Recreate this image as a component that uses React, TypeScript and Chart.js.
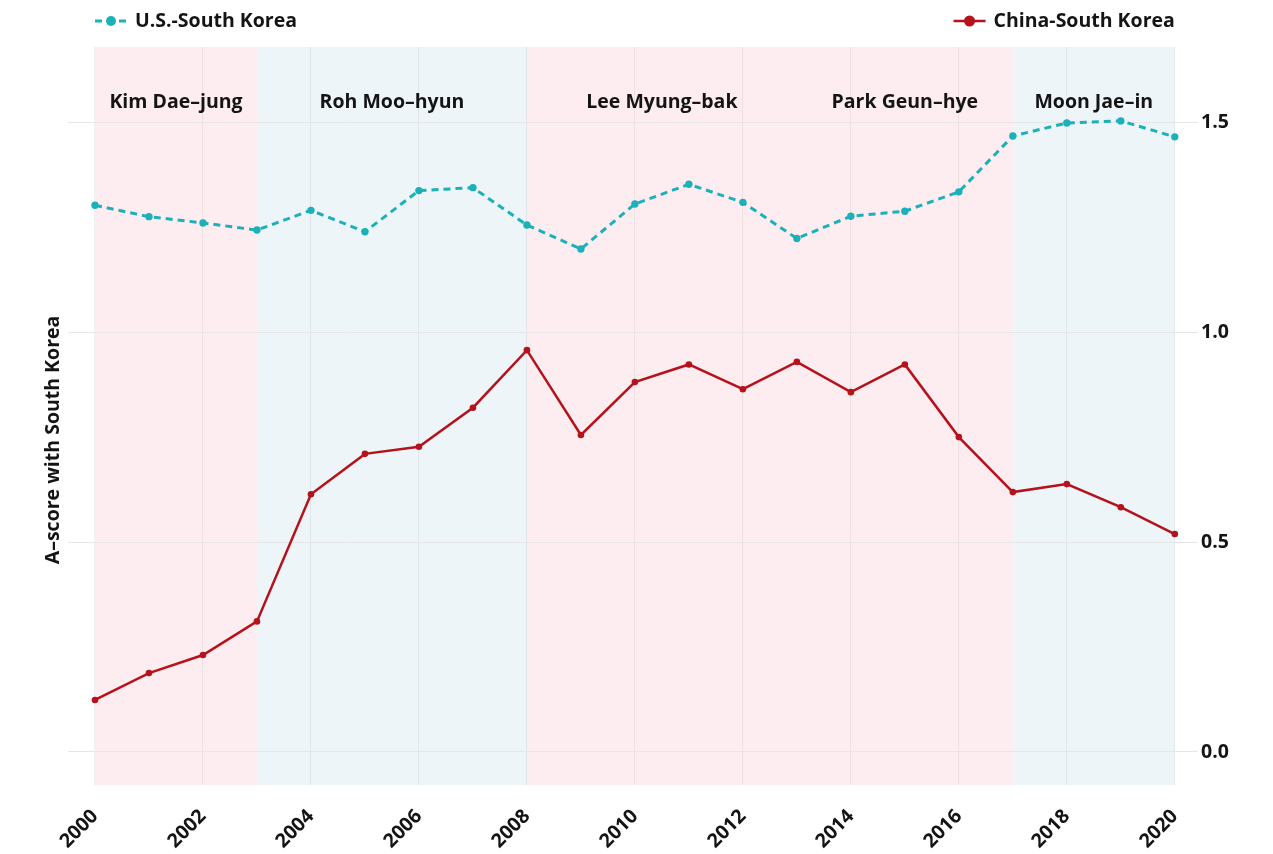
import { useEffect, useRef } from "react";
import { Chart, registerables } from "chart.js";
Chart.register(...registerables);

const years = [2000, 2001, 2002, 2003, 2004, 2005, 2006, 2007, 2008, 2009, 2010, 2011, 2012, 2013, 2014, 2015, 2016, 2017, 2018, 2019, 2020];
const usKorea = [1.302, 1.275, 1.26, 1.243, 1.29, 1.239, 1.337, 1.344, 1.255, 1.198, 1.305, 1.352, 1.309, 1.223, 1.276, 1.288, 1.334, 1.467, 1.498, 1.503, 1.465];
const chinaKorea = [0.124, 0.188, 0.231, 0.311, 0.614, 0.71, 0.727, 0.82, 0.957, 0.755, 0.881, 0.923, 0.864, 0.929, 0.857, 0.923, 0.75, 0.619, 0.638, 0.583, 0.519];

const presidents = ["Kim Dae–jung", "Roh Moo–hyun", "Lee Myung–bak", "Park Geun–hye", "Moon Jae–in"];
const termStart = [2000, 2003, 2008, 2013, 2017];
const termEnd = [2003, 2008, 2013, 2017, 2020];

const PINK = "#fdedf0";
const BLUE = "#edf5f9";
const bandColors = [PINK, BLUE, PINK, PINK, BLUE];

const TEAL = "#1cb0b9";
const RED = "#b5121b";
const INK = "#141414";
const FONT = "'Open Sans', 'Noto Sans', sans-serif";

const decorations = {
  id: "decorations",
  beforeDraw(chart: any) {
    const { ctx, chartArea, scales } = chart;
    const x = scales.x;
    ctx.save();
    termStart.forEach((s, i) => {
      const x0 = x.getPixelForValue(s);
      const x1 = x.getPixelForValue(termEnd[i]);
      ctx.fillStyle = bandColors[i];
      ctx.fillRect(x0, chartArea.top, x1 - x0, chartArea.bottom - chartArea.top);
    });
    ctx.restore();
  },
  afterDraw(chart: any) {
    const { ctx, chartArea, scales } = chart;
    const x = scales.x;
    ctx.save();

    // president names
    ctx.font = `bold 19.5px ${FONT}`;
    ctx.fillStyle = INK;
    ctx.textAlign = "center";
    ctx.textBaseline = "middle";
    presidents.forEach((name, i) => {
      const mid = (termStart[i] + termEnd[i]) / 2;
      ctx.fillText(name, x.getPixelForValue(mid), chartArea.top + 55);
    });

    // y axis title on the left
    ctx.save();
    ctx.translate(chartArea.left - 15, (chartArea.top + chartArea.bottom) / 2 + 24);
    ctx.rotate(-Math.PI / 2);
    ctx.font = `bold 19.5px ${FONT}`;
    ctx.fillText("A–score with South Korea", 0, 0);
    ctx.restore();

    // legend
    const ly = 21;
    const left = x.getPixelForValue(years[0]);
    const right = x.getPixelForValue(years[years.length - 1]);
    ctx.lineWidth = 3;
    ctx.strokeStyle = TEAL;
    ctx.setLineDash([7, 5]);
    ctx.beginPath();
    ctx.moveTo(left, ly);
    ctx.lineTo(left + 32, ly);
    ctx.stroke();
    ctx.setLineDash([]);
    ctx.fillStyle = TEAL;
    ctx.beginPath();
    ctx.arc(left + 16, ly, 5, 0, Math.PI * 2);
    ctx.fill();
    ctx.fillStyle = INK;
    ctx.font = `bold 19.5px ${FONT}`;
    ctx.textAlign = "left";
    ctx.fillText("U.S.-South Korea", left + 40, ly);

    ctx.textAlign = "right";
    ctx.fillText("China-South Korea", right, ly);
    const tw = ctx.measureText("China-South Korea").width;
    const sx = right - tw - 40;
    ctx.strokeStyle = RED;
    ctx.lineWidth = 2.5;
    ctx.beginPath();
    ctx.moveTo(sx, ly);
    ctx.lineTo(sx + 32, ly);
    ctx.stroke();
    ctx.fillStyle = RED;
    ctx.beginPath();
    ctx.arc(sx + 16, ly, 5.5, 0, Math.PI * 2);
    ctx.fill();

    ctx.restore();
  },
};

export default function App() {
  const canvasRef = useRef<HTMLCanvasElement>(null);
  const chartRef = useRef<Chart | null>(null);

  useEffect(() => {
    if (!canvasRef.current) return;
    if (chartRef.current) chartRef.current.destroy();

    chartRef.current = new Chart(canvasRef.current, {
      type: "line",
      data: {
        datasets: [
          {
            label: "U.S.-South Korea",
            data: years.map((y, i) => ({ x: y, y: usKorea[i] })),
            borderColor: TEAL,
            backgroundColor: TEAL,
            borderWidth: 3,
            borderDash: [7, 5],
            pointRadius: 3.7,
            pointBorderWidth: 0,
            tension: 0,
          },
          {
            label: "China-South Korea",
            data: years.map((y, i) => ({ x: y, y: chinaKorea[i] })),
            borderColor: RED,
            backgroundColor: RED,
            borderWidth: 2.5,
            pointRadius: 3.3,
            pointBorderWidth: 0,
            tension: 0,
          },
        ],
      },
      options: {
        responsive: true,
        maintainAspectRatio: false,
        animation: false,
        layout: { padding: { top: 47, left: 68, right: 0, bottom: 0 } },
        plugins: {
          legend: { display: false },
          tooltip: { enabled: false },
        },
        scales: {
          x: {
            type: "linear",
            min: 1999.5,
            max: 2020.43,
            afterFit: (scale: any) => {
              scale.height = 69;
            },
            ticks: {
              stepSize: 2,
              includeBounds: false,
              minRotation: 45,
              maxRotation: 45,
              padding: 20,
              color: INK,
              font: { family: FONT, size: 19.5, weight: "bold" },
              callback: (v: any) => String(v),
            },
            grid: { color: "rgba(0,0,0,0.06)", drawTicks: false },
            border: { display: false },
          },
          y: {
            type: "linear",
            position: "right",
            min: -0.0786,
            max: 1.679,
            afterFit: (scale: any) => {
              scale.width = 75;
            },
            ticks: {
              stepSize: 0.5,
              includeBounds: false,
              padding: 3,
              color: INK,
              font: { family: FONT, size: 19.5, weight: "bold" },
              callback: (v: any) => Number(v).toFixed(1),
            },
            grid: { color: "#e6e6e6", drawTicks: false },
            border: { display: false },
          },
        },
      },
      plugins: [decorations],
    });

    return () => {
      chartRef.current?.destroy();
      chartRef.current = null;
    };
  }, []);

  return (
    <div style={{ position: "fixed", left: 0, top: 0, width: 1273, height: 854, background: "#fff" }}>
      <canvas ref={canvasRef}></canvas>
    </div>
  );
}
